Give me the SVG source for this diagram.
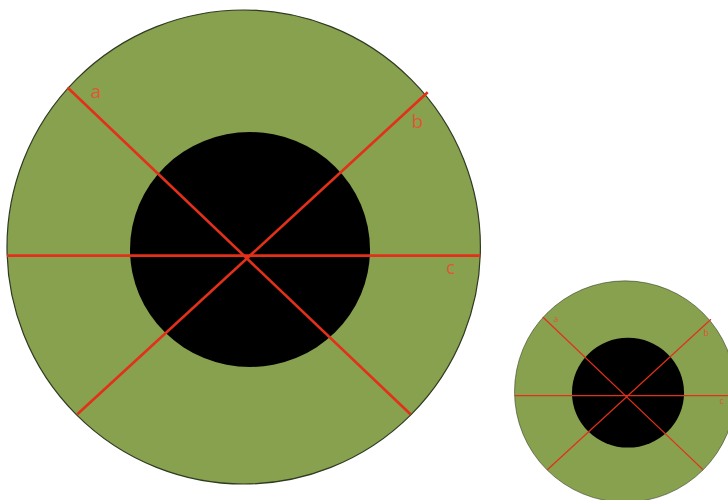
<svg xmlns="http://www.w3.org/2000/svg" width="728" height="500" viewBox="0 0 728 500">
<style>
.outer{fill:#87A14E;stroke:#2f3a22;stroke-width:1.2}
.inner{fill:#000}
.ln{stroke:#E2301A;stroke-width:2.6;fill:none}
.lbl{font-family:"Open Sans","Liberation Sans",sans-serif;font-size:19px;fill:#DB5A34}
</style>
<rect width="728" height="500" fill="#fff"/>
<g id="big">
  <ellipse class="outer" cx="243.7" cy="247" rx="236.7" ry="237"/>
  <ellipse class="inner" cx="250" cy="249.5" rx="120" ry="117.5"/>
  <g id="big-lines">
    <line class="ln" x1="67.5" y1="87.5" x2="410.5" y2="414.3"/>
    <line class="ln" x1="427.7" y1="92.3" x2="77.3" y2="414.3"/>
    <line class="ln" x1="7" y1="255.6" x2="480.5" y2="255.6"/>
  </g>
  <text class="lbl" x="90.5" y="98">a</text>
  <text class="lbl" x="411.5" y="128">b</text>
  <text class="lbl" x="446" y="274">c</text>
</g>
<g id="small" transform="translate(511.25 276.2) scale(0.467)">
  <ellipse class="outer" cx="243.7" cy="247" rx="236.7" ry="237" stroke-width="2.2"/>
  <ellipse class="inner" cx="250" cy="249.5" rx="120" ry="117.5"/>
  <g id="small-lines">
    <line class="ln" x1="67.5" y1="87.5" x2="410.5" y2="414.3" stroke-width="3.4"/>
    <line class="ln" x1="427.7" y1="92.3" x2="77.3" y2="414.3" stroke-width="3.4"/>
    <line class="ln" x1="7" y1="255.6" x2="480.5" y2="255.6" stroke-width="3.4"/>
  </g>
  <text class="lbl" x="90.5" y="98">a</text>
  <text class="lbl" x="411.5" y="128">b</text>
  <text class="lbl" x="446" y="274">c</text>
</g>
</svg>
